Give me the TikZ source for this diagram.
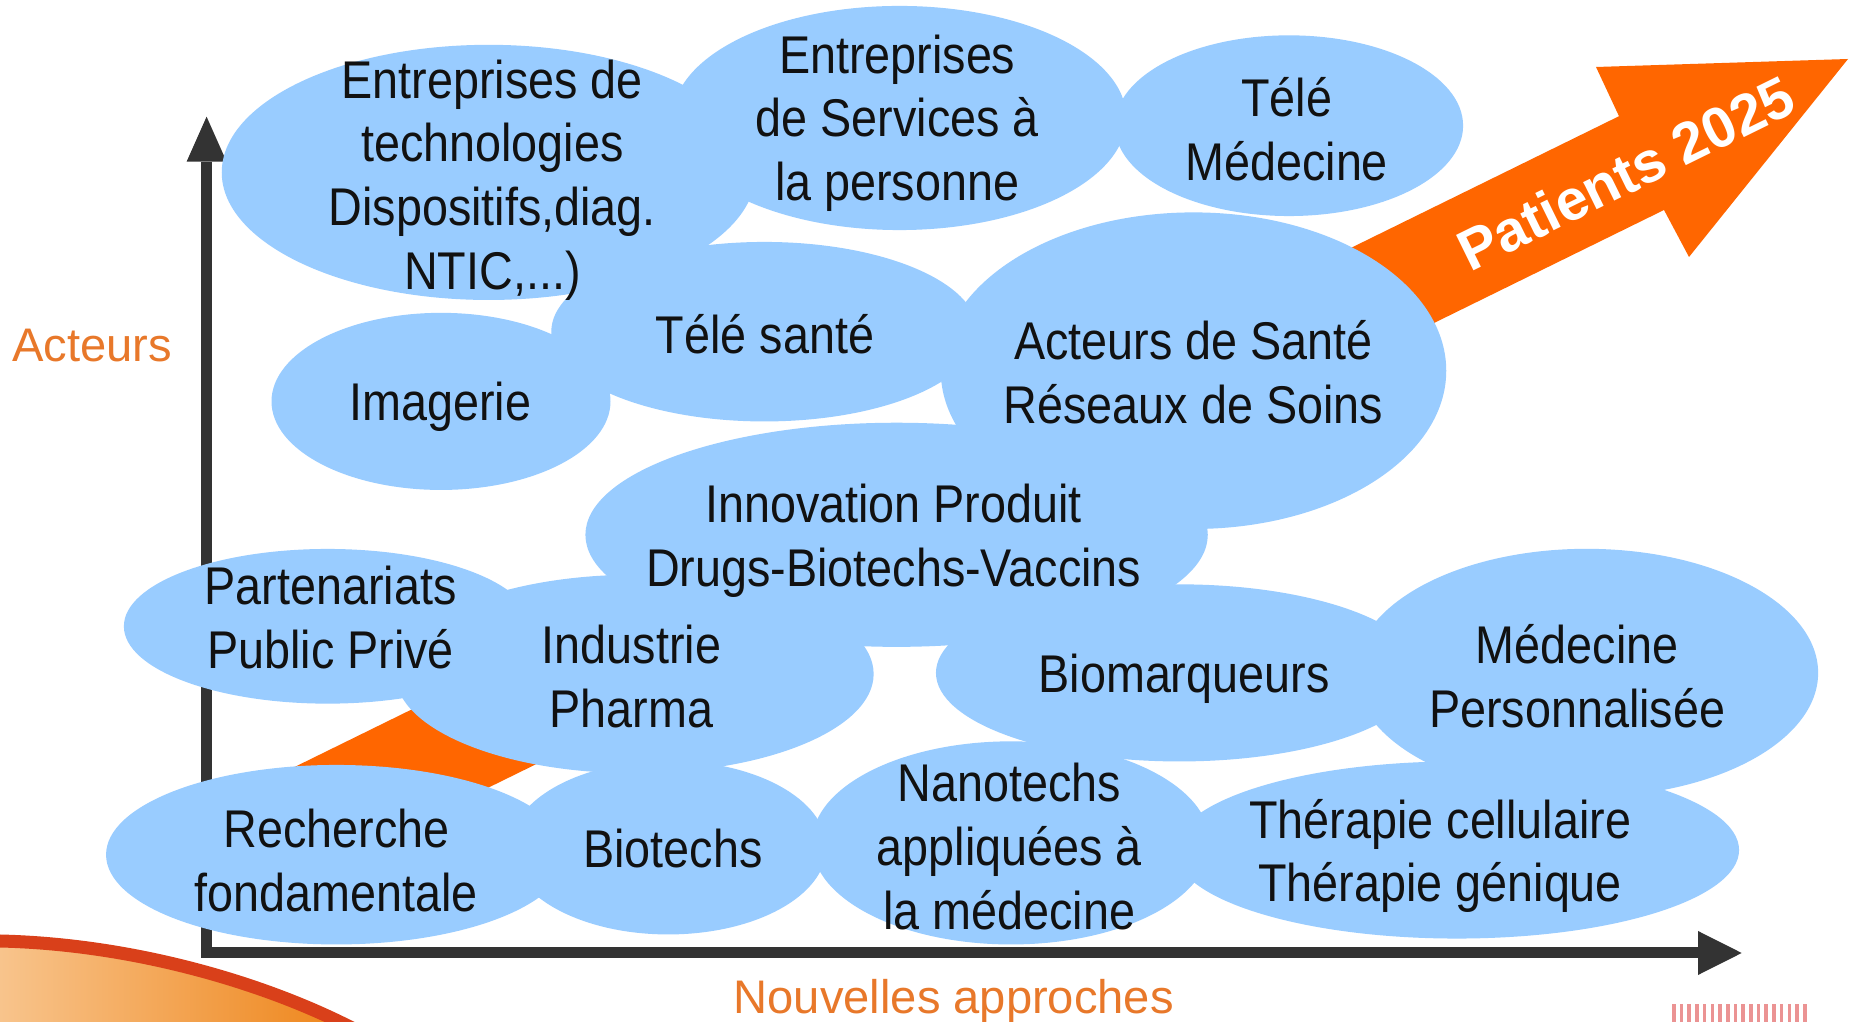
\documentclass[tikz,border=0pt]{standalone}
\usepackage{fontspec}
\setmainfont{Liberation Sans}
\newfontfamily\narrowsf{Liberation Sans}[FakeStretch=0.88]
\usetikzlibrary{shapes.geometric}
\definecolor{bubblue}{HTML}{99CCFF}
\definecolor{arrowor}{HTML}{FF6600}
\definecolor{labelor}{HTML}{E8782A}
\definecolor{axisgray}{HTML}{333333}
\definecolor{txtblack}{HTML}{111111}
\definecolor{swoopdark}{HTML}{D9401A}
\definecolor{swooplight}{HTML}{F8C48C}
\definecolor{swoopmid}{HTML}{EE8418}
\definecolor{logored}{HTML}{E57070}
\begin{document}
\begin{tikzpicture}[x=0.01cm,y=-0.01cm,
  bub/.style 2 args={ellipse, fill=bubblue, draw=none, inner sep=0pt, minimum width=#1, minimum height=#2},
  btext/.style={font=\narrowsf\fontsize{15.1}{18.1}\selectfont, text=txtblack, align=center, inner sep=0pt},
  axlabel/.style={font=\fontsize{13.4}{16}\selectfont, text=labelor, inner sep=0pt, anchor=base},
  axisline/.style={draw=axisgray, line width=0.108cm, line join=miter},
]
\useasboundingbox (0,0) rectangle (1851,1022);
\fill[white] (0,0) rectangle (1851,1022);

% bottom-left decorative swoosh and bottom-right logo fragment
\begin{scope}
\clip (0,0) rectangle (1851,1022);
\shade[left color=swooplight, right color=swoopmid] (0,935) .. controls (130,938) and (260,975) .. (352,1022) -- (0,1022) -- cycle;
\draw[swoopdark, line width=0.13cm] (0,941) .. controls (130,944) and (260,981) .. (352,1028);
\foreach \i in {0,...,17} {\fill[logored, opacity=0.75] (1672+\i*7.7,1004) rectangle ++(3.6,18);}
\end{scope}

% big orange arrow
\coordinate (pt1) at (250,788.9);
\coordinate (pt2) at (295.9,882.2);
\coordinate (pnb) at (1664,210);
\coordinate (prb) at (1689,257);
\coordinate (ptip) at (1848,59);
\coordinate (plb) at (1596,67);
\coordinate (pnt) at (1619,116.2);
\fill[arrowor] (pt1) -- (pt2) -- (pnb) -- (prb) -- (ptip) -- (plb) -- (pnt) -- cycle;

% axes
\coordinate (O) at (206.6,952.8);
\coordinate (ybase) at (206.6,161.7);
\coordinate (xbase) at (1698,952.8);
\draw[axisline] (ybase) -- (O) -- (xbase);
\fill[axisgray] (186.6,161.7) -- (206.6,116.7) -- (226.6,161.7) -- cycle;
\fill[axisgray] (1698,931) -- (1741.7,953) -- (1698,975) -- cycle;

% bubbles
\node[bub={5.336cm}{2.55cm}]  (eTech)   at (488.7,172.4) {};
\node[bub={4.534cm}{2.24cm}]  (eServ)   at (899.5,118) {};
\node[bub={3.48cm}{1.806cm}]  (eTeleM)  at (1289,125.7) {};
\node[bub={3.388cm}{1.77cm}]  (eImag)   at (441,401.4) {};
\node[bub={4.26cm}{1.794cm}]  (eTeleS)  at (764.4,331.7) {};
\node[bub={5.052cm}{3.164cm}] (eActS)   at (1193.5,370.7) {};
\node[bub={6.22cm}{2.24cm}]   (eInnov)  at (896.6,534.8) {};
\node[bub={4.072cm}{1.546cm}] (ePart)   at (327.6,626.3) {};
\node[bub={4.78cm}{1.984cm}]  (eIndus)  at (634.5,674) {};
\node[bub={4.864cm}{1.77cm}]  (eBiom)   at (1179.3,672.9) {};
\node[bub={4.628cm}{2.48cm}]  (eMedP)   at (1586.6,672.9) {};
\node[bub={4.604cm}{1.794cm}] (eRech)   at (336.4,854.7) {};
\node[bub={3.16cm}{1.736cm}]  (eBiot)   at (668.2,847.6) {};
\node[bub={3.98cm}{2.03cm}]   (eNano)   at (1011,842.9) {};
\node[bub={5.642cm}{1.77cm}]  (eTher)   at (1456.8,850) {};

% bubble texts
\node[btext] (tTech)   at (492.3,180)    {Entreprises de\\technologies\\Dispositifs,diag.\\NTIC,...)};
\node[btext] (tServ)   at (897.2,123)    {Entreprises\\de Services à\\la personne};
\node[btext] (tTeleM)  at (1286.7,129.3) {Télé\\Médecine};
\node[btext] (tImag)   at (440.3,407)    {Imagerie};
\node[btext] (tTeleS)  at (765,334)      {Télé santé};
\node[btext] (tActS)   at (1193.5,372.4) {Acteurs de Santé\\Réseaux de Soins};
\node[btext] (tInnov)  at (893.6,541)    {Innovation Produit\\Drugs-Biotechs-Vaccins};
\node[btext] (tPart)   at (330.5,617.4)  {Partenariats\\Public Privé};
\node[btext] (tIndus)  at (631.6,676.4)  {Industrie\\Pharma};
\node[btext] (tBiom)   at (1184,679)     {Biomarqueurs};
\node[btext] (tMedP)   at (1577.2,676.4) {Médecine\\Personnalisée};
\node[btext] (tRech)   at (336.4,860.6)  {Recherche\\fondamentale};
\node[btext] (tBiot)   at (672.9,848.8)  {Biotechs};
\node[btext] (tNano)   at (1009.3,846.4) {Nanotechs\\appliquées à\\la médecine};
\node[btext] (tTher)   at (1440.2,856)   {Thérapie cellulaire\\Thérapie génique};

% axis labels
\node[axlabel] (lAct)  at (92,362)       {Acteurs};
\node[axlabel] (lNouv) at (953.8,1013.5) {Nouvelles approches};

% arrow label
\node[font=\bfseries\fontsize{16.3}{19}\selectfont, text=white, rotate=26.2, inner sep=0pt] (tPat) at (1626,173) {Patients 2025};
\end{tikzpicture}
\end{document}
